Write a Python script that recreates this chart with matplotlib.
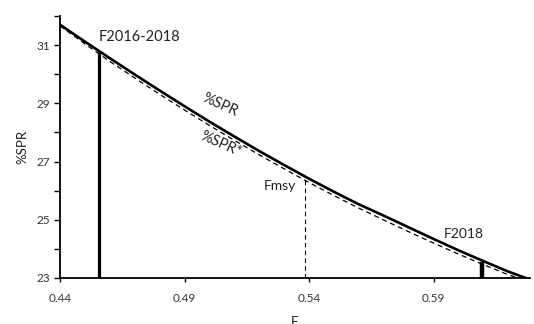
import matplotlib
matplotlib.use('Agg')
import matplotlib.pyplot as plt
from matplotlib.ticker import MultipleLocator

plt.rcParams['font.family'] = ['Lato', 'DejaVu Sans']

# values
f = [0.44, 0.45, 0.46, 0.47, 0.48, 0.49, 0.50, 0.51, 0.52, 0.53,
     0.54, 0.55, 0.56, 0.57, 0.58, 0.59, 0.60, 0.61, 0.62, 0.627]
spr = [31.70, 31.12, 30.55, 29.99, 29.44, 28.90, 28.37, 27.86, 27.36, 26.88,
       26.41, 25.96, 25.53, 25.14, 24.74, 24.34, 23.95, 23.58, 23.22, 23.00]

f_star = [0.44, 0.45, 0.46, 0.47, 0.48, 0.49, 0.50, 0.51, 0.52, 0.53,
          0.54, 0.55, 0.56, 0.57, 0.58, 0.59, 0.60, 0.61, 0.62, 0.625]
spr_star = [31.66, 31.04, 30.44, 29.87, 29.31, 28.77, 28.24, 27.73, 27.23, 26.75,
            26.28, 25.83, 25.40, 24.99, 24.59, 24.20, 23.82, 23.46, 23.11, 22.97]

f_ref = [0.4556, 0.5383, 0.6093]
spr_ref = [30.79, 26.45, 23.56]
ref_names = ['F2016-2018', 'Fmsy', 'F2018']

fig = plt.figure(figsize=(5.34, 3.24), dpi=100)
ax = fig.add_axes([0.1124, 0.142, 0.8801, 0.8086])

ax.plot(f, spr, color='black', lw=1.9, zorder=3)
ax.plot(f_star, spr_star, color='black', lw=0.9, ls=(0, (4, 3)), zorder=2)

ax.vlines(f_ref[0], 23, spr_ref[0], color='black', lw=2.3)
ax.vlines(f_ref[1], 23, spr_ref[1], color='black', lw=0.8, linestyles=(0, (4, 3)))
ax.vlines(f_ref[2], 23, spr_ref[2], color='black', lw=3.2)

tc = '#222222'
ax.text(0.4556, 31.14, ref_names[0], ha='left', va='baseline', fontsize=10.5, color=tc)
ax.text(0.5284, 26.17, ref_names[1], ha='center', va='center', fontsize=10, color=tc)
ax.text(0.6021, 24.52, ref_names[2], ha='center', va='center', fontsize=10, color=tc)
ax.text(0.5044, 28.93, '%SPR', ha='center', va='center', fontsize=10.5, color=tc, rotation=-24)
ax.text(0.5044, 27.59, '%SPR*', ha='center', va='center', fontsize=10.5, color=tc, rotation=-24)

ax.set_xlim(0.44, 0.6287)
ax.set_ylim(23, 32)
ax.set_xticks([0.44, 0.49, 0.54, 0.59])
ax.set_xticklabels(['0.44', '0.49', '0.54', '0.59'])
ax.set_yticks([23, 25, 27, 29, 31])
ax.yaxis.set_minor_locator(MultipleLocator(1))

for s in ['top', 'right']:
    ax.spines[s].set_visible(False)
for s in ['left', 'bottom']:
    ax.spines[s].set_linewidth(1.3)
ax.tick_params(axis='both', which='both', direction='out', width=1.0, labelsize=8.5, labelcolor='#333333')
ax.tick_params(axis='y', which='both', length=4, pad=3)
ax.tick_params(axis='x', which='major', length=3, pad=8)

ax.set_ylabel('%SPR', fontsize=9.5, color=tc, labelpad=6)
fig.text(0.552, 1 - 316 / 324, 'F', ha='center', va='top', fontsize=9.5, color=tc)

fig.savefig('out.png', dpi=100)
